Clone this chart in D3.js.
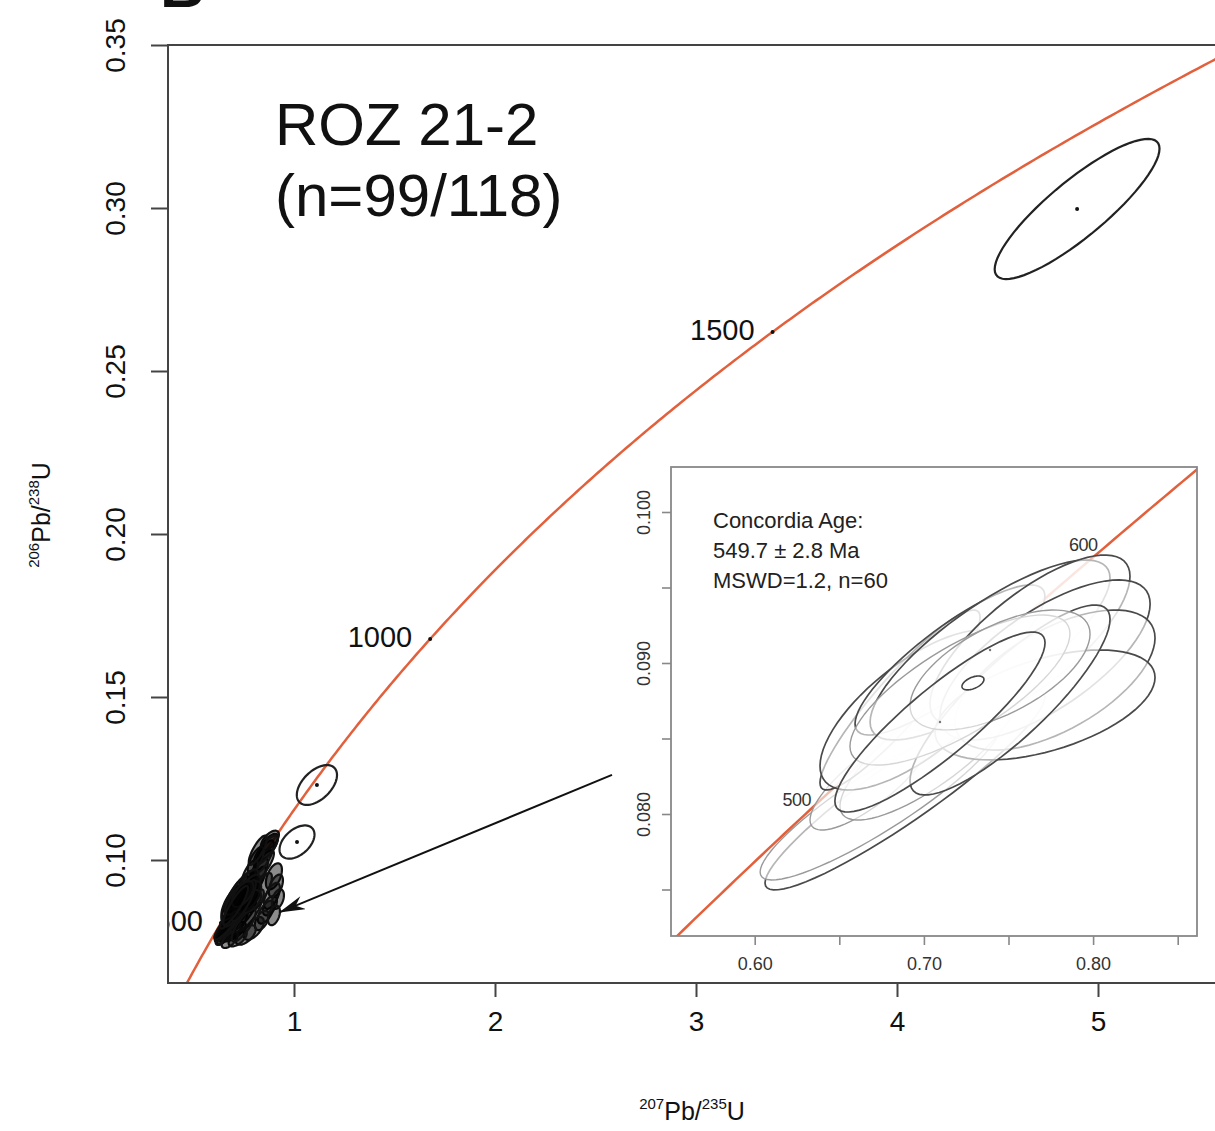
<!DOCTYPE html>
<html>
<head>
<meta charset="utf-8">
<script src="https://cdn.jsdelivr.net/npm/d3@7"></script>
<style>
  body { margin: 0; background: #fff; }
  svg { display: block; font-family: "Liberation Sans", Arial, sans-serif; }
</style>
</head>
<body>
<div id="chart"></div>
<script>
// decay constants, per Ma
const L238 = 1.55125e-4;
const L235 = 9.8485e-4;

const mainXTicks = [1, 2, 3, 4, 5];
const mainYTicks = [0.10, 0.15, 0.20, 0.25, 0.30, 0.35];
const mainAgeTicks = [500, 1000, 1500];

const insetXTicks = [0.60, 0.65, 0.70, 0.75, 0.80, 0.85];
const insetXLabels = [0.60, 0.70, 0.80];
const insetYTicks = [0.075, 0.080, 0.085, 0.090, 0.095, 0.100];
const insetYLabels = [0.080, 0.090, 0.100];
const insetAgeTicks = [500, 600];

const titleLines = ["ROZ 21-2", "(n=99/118)"];
const insetNote = ["Concordia Age:", "549.7 \u00b1 2.8 Ma", "MSWD=1.2, n=60"];

// analyses: [207Pb/235U, 206Pb/238U, half-width x, half-width y, rho]
const outliers = [
  [4.896, 0.2997, 0.41, 0.0215, 0.86],
  [1.114, 0.1230, 0.100, 0.0061, 0.50],
  [1.015, 0.1055, 0.087, 0.0051, 0.45]
];

// concordant analyses (shown in the inset); last value: 1 = dark outline, 0 = light
const concordant = [
  [0.6888, 0.08159, 0.0827, 0.00662, 0.93, 1],
  [0.6741, 0.08093, 0.0709, 0.00530, 0.90, 0],
  [0.6682, 0.08225, 0.0355, 0.00331, 0.80, 0],
  [0.7036, 0.08424, 0.0532, 0.00464, 0.80, 0],
  [0.6859, 0.08755, 0.0473, 0.00596, 0.92, 1],
  [0.6947, 0.08689, 0.0561, 0.00530, 0.70, 1],
  [0.7154, 0.09020, 0.0561, 0.00497, 0.85, 1],
  [0.7391, 0.09086, 0.0709, 0.00596, 0.80, 1],
  [0.7627, 0.09152, 0.0591, 0.00563, 0.75, 1],
  [0.7716, 0.09020, 0.0621, 0.00530, 0.70, 1],
  [0.7775, 0.08887, 0.0591, 0.00464, 0.60, 1],
  [0.7716, 0.08722, 0.0650, 0.00364, 0.50, 1],
  [0.7509, 0.08755, 0.0591, 0.00629, 0.85, 1],
  [0.7213, 0.08821, 0.0650, 0.00497, 0.75, 0],
  [0.7450, 0.08954, 0.0532, 0.00397, 0.60, 0],
  [0.7095, 0.08609, 0.0621, 0.00596, 0.88, 1]
];
const concordiaAge = [0.7290, 0.08868, 0.0065, 0.00046, 0.5];
const centreDots = [[0.7095, 0.08609], [0.7391, 0.09086]];

// the rest of the dense cluster near 550 Ma
const cluster = [
  [0.66, 0.0775, 0.045, 0.0035, 0.8], [0.68, 0.0790, 0.050, 0.0040, 0.8],
  [0.70, 0.0780, 0.060, 0.0030, 0.7], [0.72, 0.0800, 0.050, 0.0045, 0.85],
  [0.65, 0.0765, 0.035, 0.0025, 0.7], [0.74, 0.0830, 0.070, 0.0050, 0.8],
  [0.76, 0.0860, 0.060, 0.0055, 0.85], [0.78, 0.0890, 0.050, 0.0050, 0.8],
  [0.80, 0.0920, 0.060, 0.0060, 0.85], [0.82, 0.0950, 0.050, 0.0055, 0.8],
  [0.84, 0.0980, 0.060, 0.0050, 0.8], [0.85, 0.1010, 0.050, 0.0050, 0.75],
  [0.87, 0.1040, 0.050, 0.0040, 0.7], [0.88, 0.1060, 0.045, 0.0030, 0.6],
  [0.86, 0.1030, 0.060, 0.0045, 0.8], [0.90, 0.0950, 0.040, 0.0040, 0.5],
  [0.91, 0.0920, 0.035, 0.0035, 0.5], [0.89, 0.0890, 0.040, 0.0040, 0.6],
  [0.88, 0.0860, 0.035, 0.0030, 0.5], [0.86, 0.0840, 0.040, 0.0035, 0.6],
  [0.84, 0.0815, 0.035, 0.0030, 0.5], [0.80, 0.0790, 0.050, 0.0035, 0.6],
  [0.76, 0.0770, 0.050, 0.0030, 0.6], [0.72, 0.0760, 0.045, 0.0025, 0.6],
  [0.68, 0.0755, 0.040, 0.0025, 0.6], [0.83, 0.0900, 0.060, 0.0060, 0.8],
  [0.79, 0.0850, 0.060, 0.0060, 0.8], [0.75, 0.0800, 0.060, 0.0050, 0.8],
  [0.81, 0.1000, 0.040, 0.0040, 0.7], [0.78, 0.0960, 0.040, 0.0040, 0.7],
  [0.92, 0.0880, 0.030, 0.0030, 0.4], [0.90, 0.0830, 0.030, 0.0030, 0.4],
  [0.70, 0.0820, 0.050, 0.0045, 0.85], [0.74, 0.0870, 0.055, 0.0050, 0.85],
  [0.77, 0.0910, 0.050, 0.0050, 0.85], [0.82, 0.1030, 0.045, 0.0045, 0.8],
  [0.67, 0.0800, 0.040, 0.0040, 0.85], [0.64, 0.0770, 0.030, 0.0030, 0.7]
];

// arrow from inset to the cluster: [x, y] start and end in main-plot units
const arrowFrom = [2.582, 0.1261];
const arrowTo = [0.930, 0.0840];

const width = 1215, height = 1131;
const red = "#e2603c";

const svg = d3.select("#chart").append("svg")
  .attr("width", width).attr("height", height);

const defs = svg.append("defs");

// ---------- main plot ----------
const plot = { left: 168, top: 45, right: 1217, bottom: 983 };
const x = d3.scaleLinear().domain([1, 5]).range([294, 1098]);
const y = d3.scaleLinear().domain([0.10, 0.35]).range([860, 45]);

defs.append("clipPath").attr("id", "mainClip")
  .append("rect")
  .attr("x", plot.left).attr("y", plot.top)
  .attr("width", plot.right - plot.left).attr("height", plot.bottom - plot.top);

defs.append("marker")
  .attr("id", "head")
  .attr("viewBox", "0 0 26 14")
  .attr("refX", 25).attr("refY", 7)
  .attr("markerWidth", 26).attr("markerHeight", 14)
  .attr("markerUnits", "userSpaceOnUse")
  .attr("orient", "auto")
  .append("path")
  .attr("d", "M0,0 L26,7 L0,14 L8,7 Z")
  .attr("fill", "#111");

function ellipsePath(d, sx, sy) {
  const [cx, cy, ex, ey, rho] = d;
  const k = Math.sqrt(1 - rho * rho);
  const pts = d3.range(0, 73).map(i => {
    const t = i / 72 * 2 * Math.PI;
    return [sx(cx + ex * Math.cos(t)), sy(cy + ey * (rho * Math.cos(t) + k * Math.sin(t)))];
  });
  return d3.line()(pts) + "Z";
}

function concordia(t) {
  return [Math.exp(L235 * t) - 1, Math.exp(L238 * t) - 1];
}

// panel letter, mostly cut off at the top
svg.append("text")
  .attr("x", 160).attr("y", 7)
  .attr("font-size", 62).attr("font-weight", "bold")
  .attr("fill", "#111")
  .text("B");

const main = svg.append("g").attr("clip-path", "url(#mainClip)");

const curveAges = d3.range(370, 2000, 5);
main.append("path")
  .attr("d", d3.line().x(t => x(concordia(t)[0])).y(t => y(concordia(t)[1]))(curveAges))
  .attr("fill", "none")
  .attr("stroke", red)
  .attr("stroke-width", 2.5);

main.selectAll(".age-dot")
  .data(mainAgeTicks).enter().append("circle")
  .attr("cx", t => x(concordia(t)[0]))
  .attr("cy", t => y(concordia(t)[1]))
  .attr("r", 2)
  .attr("fill", "#111");

main.selectAll(".age-label")
  .data(mainAgeTicks).enter().append("text")
  .attr("x", t => x(concordia(t)[0]) - 18)
  .attr("y", t => y(concordia(t)[1]) - 2)
  .attr("dy", "0.35em")
  .attr("text-anchor", "end")
  .attr("font-size", 29)
  .attr("fill", "#111")
  .text(t => t);

main.selectAll(".cluster")
  .data(cluster.concat(concordant)).enter().append("path")
  .attr("d", d => ellipsePath(d, x, y))
  .attr("fill", "#000")
  .attr("fill-opacity", 0.45)
  .attr("stroke", "#111")
  .attr("stroke-width", 2.2);

main.selectAll(".outlier")
  .data(outliers).enter().append("path")
  .attr("d", d => ellipsePath(d, x, y))
  .attr("fill", "none")
  .attr("stroke", "#222")
  .attr("stroke-width", 2.2);

main.selectAll(".outlier-dot")
  .data(outliers).enter().append("circle")
  .attr("cx", d => x(d[0])).attr("cy", d => y(d[1]))
  .attr("r", 2)
  .attr("fill", "#111");

main.append("line")
  .attr("x1", x(arrowFrom[0])).attr("y1", y(arrowFrom[1]))
  .attr("x2", x(arrowTo[0])).attr("y2", y(arrowTo[1]))
  .attr("stroke", "#111")
  .attr("stroke-width", 2)
  .attr("marker-end", "url(#head)");

// frame (right side lies beyond the picture)
svg.append("rect")
  .attr("x", plot.left).attr("y", plot.top)
  .attr("width", plot.right - plot.left).attr("height", plot.bottom - plot.top)
  .attr("fill", "none")
  .attr("stroke", "#444")
  .attr("stroke-width", 2);

const xAxis = d3.axisBottom(x).tickValues(mainXTicks).tickSize(14).tickFormat(d3.format("d"));
const gx = svg.append("g").attr("transform", `translate(0,${plot.bottom})`).call(xAxis);
gx.select(".domain").remove();
gx.selectAll("line").attr("stroke", "#444").attr("stroke-width", 2);
gx.selectAll("text")
  .attr("y", 48).attr("dy", 0)
  .attr("font-size", 28)
  .attr("font-family", "Liberation Sans, Arial, sans-serif")
  .attr("fill", "#111");

const yAxis = d3.axisLeft(y).tickValues(mainYTicks).tickSize(17).tickFormat(d3.format(".2f"));
const gy = svg.append("g").attr("transform", `translate(${plot.left},0)`).call(yAxis);
gy.select(".domain").remove();
gy.selectAll("line").attr("stroke", "#444").attr("stroke-width", 2);
gy.selectAll("text")
  .attr("x", 0).attr("dy", 0)
  .attr("text-anchor", "middle")
  .attr("transform", "translate(-43,0) rotate(-90)")
  .attr("font-size", 28)
  .attr("font-family", "Liberation Sans, Arial, sans-serif")
  .attr("fill", "#111");

// axis titles
const xt = svg.append("text")
  .attr("x", 692).attr("y", 1120)
  .attr("text-anchor", "middle")
  .attr("font-size", 25)
  .attr("fill", "#111");
xt.append("tspan").attr("font-size", 15).attr("dy", -11).text("207");
xt.append("tspan").attr("dy", 11).text("Pb/");
xt.append("tspan").attr("font-size", 15).attr("dy", -11).text("235");
xt.append("tspan").attr("dy", 11).text("U");

const yt = svg.append("text")
  .attr("transform", "translate(50,515) rotate(-90)")
  .attr("text-anchor", "middle")
  .attr("font-size", 25)
  .attr("fill", "#111");
yt.append("tspan").attr("font-size", 15).attr("dy", -11).text("206");
yt.append("tspan").attr("dy", 11).text("Pb/");
yt.append("tspan").attr("font-size", 15).attr("dy", -11).text("238");
yt.append("tspan").attr("dy", 11).text("U");

svg.selectAll(".title")
  .data(titleLines).enter().append("text")
  .attr("x", 275)
  .attr("y", (d, i) => 145 + i * 71)
  .attr("font-size", 60)
  .attr("fill", "#111")
  .text(d => d);

// ---------- inset ----------
const box = { left: 671, top: 467, right: 1197, bottom: 936 };
const ix = d3.scaleLinear().domain([0.60, 0.80]).range([754.7, 1093.1]);
const iy = d3.scaleLinear().domain([0.080, 0.100]).range([814, 512]);

defs.append("clipPath").attr("id", "insetClip")
  .append("rect")
  .attr("x", box.left).attr("y", box.top)
  .attr("width", box.right - box.left).attr("height", box.bottom - box.top);

svg.append("rect")
  .attr("x", box.left).attr("y", box.top)
  .attr("width", box.right - box.left).attr("height", box.bottom - box.top)
  .attr("fill", "#fff");

const inset = svg.append("g").attr("clip-path", "url(#insetClip)");

const insetAges = d3.range(430, 660, 2);
inset.append("path")
  .attr("d", d3.line().x(t => ix(concordia(t)[0])).y(t => iy(concordia(t)[1]))(insetAges))
  .attr("fill", "none")
  .attr("stroke", red)
  .attr("stroke-width", 2.5);

inset.selectAll(".ell")
  .data(concordant).enter().append("path")
  .attr("d", d => ellipsePath(d, ix, iy))
  .attr("fill", "#fff")
  .attr("fill-opacity", 0.6)
  .attr("stroke", d => d[5] ? "#4a4a4a" : "#9a9a9a")
  .attr("stroke-width", d => d[5] ? 1.7 : 1.4);

inset.append("path")
  .attr("d", ellipsePath(concordiaAge, ix, iy))
  .attr("fill", "#fff")
  .attr("stroke", "#444")
  .attr("stroke-width", 1.6);

inset.selectAll(".cdot")
  .data(centreDots).enter().append("circle")
  .attr("cx", d => ix(d[0])).attr("cy", d => iy(d[1]))
  .attr("r", 1.2)
  .attr("fill", "#777");

inset.selectAll(".iage")
  .data(insetAgeTicks).enter().append("text")
  .attr("x", t => ix(concordia(t)[0]) - 5)
  .attr("y", t => iy(concordia(t)[1]) - 4)
  .attr("dy", "0.35em")
  .attr("text-anchor", "end")
  .attr("font-size", 18)
  .attr("letter-spacing", -0.5)
  .attr("fill", "#333")
  .text(t => t);

svg.selectAll(".note")
  .data(insetNote).enter().append("text")
  .attr("x", 713)
  .attr("y", (d, i) => 528 + i * 30)
  .attr("font-size", 22)
  .attr("fill", "#222")
  .text(d => d);

svg.append("rect")
  .attr("x", box.left).attr("y", box.top)
  .attr("width", box.right - box.left).attr("height", box.bottom - box.top)
  .attr("fill", "none")
  .attr("stroke", "#888")
  .attr("stroke-width", 1.8);

const ixAxis = d3.axisBottom(ix).tickValues(insetXTicks).tickSize(9)
  .tickFormat(d => insetXLabels.some(v => Math.abs(v - d) < 1e-9) ? d3.format(".2f")(d) : "");
const gix = svg.append("g").attr("transform", `translate(0,${box.bottom})`).call(ixAxis);
gix.select(".domain").remove();
gix.selectAll("line").attr("stroke", "#888").attr("stroke-width", 1.6);
gix.selectAll("text")
  .attr("y", 34).attr("dy", 0)
  .attr("font-size", 18)
  .attr("font-family", "Liberation Sans, Arial, sans-serif")
  .attr("fill", "#333");

const iyAxis = d3.axisLeft(iy).tickValues(insetYTicks).tickSize(9)
  .tickFormat(d => insetYLabels.some(v => Math.abs(v - d) < 1e-9) ? d3.format(".3f")(d) : "");
const giy = svg.append("g").attr("transform", `translate(${box.left},0)`).call(iyAxis);
giy.select(".domain").remove();
giy.selectAll("line").attr("stroke", "#888").attr("stroke-width", 1.6);
giy.selectAll("text")
  .attr("x", 0).attr("dy", 0)
  .attr("text-anchor", "middle")
  .attr("transform", "translate(-21,0) rotate(-90)")
  .attr("font-size", 18)
  .attr("font-family", "Liberation Sans, Arial, sans-serif")
  .attr("fill", "#333");
</script>
</body>
</html>
